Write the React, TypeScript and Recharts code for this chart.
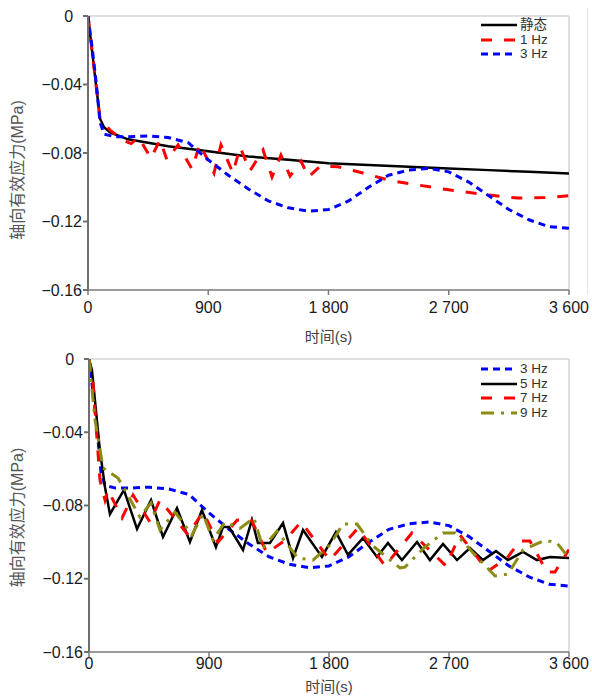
import React from 'react';
import { LineChart, Line, XAxis, YAxis, ReferenceLine, Legend } from 'recharts';

const FONT = '"Liberation Sans", Arial, "Noto Sans CJK SC", sans-serif';

// ---- axis ticks ----
const xTicks = [0, 900, 1800, 2700, 3600];
const xTickLabels = ['0', '900', '1 800', '2 700', '3 600'];
const yTicks = [0, -0.04, -0.08, -0.12, -0.16];
const yTickLabels = ['0\u2007', '−0.04', '−0.08', '−0.12', '−0.16'];

// ---- top chart: 静态 ----
const staticTime = [0, 30, 60, 90, 120, 165, 300, 450, 600, 900, 1200, 1500, 1800, 2100, 2400, 2700, 3000, 3300, 3600];
const staticValue = [0, -0.02, -0.04, -0.06, -0.065, -0.068, -0.072, -0.074, -0.076, -0.079, -0.082, -0.084, -0.086, -0.087, -0.088, -0.089, -0.09, -0.091, -0.092];

// ---- top chart: 1 Hz ----
const hz1Time = [0, 30, 60, 90, 165, 260, 322, 380, 471, 539, 591, 674, 778, 838, 943, 995, 1085, 1138, 1212, 1310, 1377, 1444, 1512, 1594, 1650, 1740, 1871, 2058, 2275, 2470, 2657, 2881, 3050, 3218, 3420, 3600];
const hz1Value = [0, -0.02, -0.04, -0.06, -0.0666, -0.0725, -0.0745, -0.071, -0.083, -0.0724, -0.084, -0.0753, -0.0893, -0.0747, -0.0917, -0.0753, -0.0917, -0.0765, -0.0905, -0.0782, -0.094, -0.0812, -0.0934, -0.0847, -0.094, -0.0876, -0.088, -0.0917, -0.0963, -0.0987, -0.101, -0.1034, -0.105, -0.1063, -0.106, -0.105];

// ---- both charts: 3 Hz ----
const hz3Time = [0, 30, 60, 90, 120, 200, 300, 450, 600, 750, 900, 1050, 1200, 1350, 1500, 1650, 1800, 1950, 2100, 2250, 2400, 2550, 2700, 2850, 3000, 3150, 3300, 3450, 3600];
const hz3Value = [0, -0.018, -0.038, -0.062, -0.069, -0.0705, -0.0705, -0.07, -0.071, -0.074, -0.084, -0.093, -0.101, -0.108, -0.112, -0.114, -0.113, -0.108, -0.1, -0.093, -0.09, -0.089, -0.091, -0.097, -0.105, -0.113, -0.119, -0.123, -0.124];

// ---- bottom chart: 5 Hz ----
const hz5Time = [0, 22, 82, 120, 157, 262, 360, 465, 555, 660, 757, 847, 952, 1005, 1050, 1155, 1222, 1267, 1357, 1455, 1530, 1605, 1747, 1852, 1942, 2055, 2160, 2242, 2347, 2460, 2557, 2655, 2760, 2857, 2955, 3052, 3142, 3255, 3360, 3457, 3600];
const hz5Value = [0, -0.006, -0.05, -0.07, -0.0847, -0.0715, -0.0928, -0.077, -0.0972, -0.0814, -0.0999, -0.0825, -0.1027, -0.0918, -0.0918, -0.1043, -0.0879, -0.1005, -0.1005, -0.0896, -0.1087, -0.0934, -0.1081, -0.0945, -0.107, -0.0978, -0.1081, -0.1005, -0.1098, -0.0999, -0.1098, -0.101, -0.1098, -0.1032, -0.1098, -0.1049, -0.1098, -0.1054, -0.1098, -0.1081, -0.1087];

// ---- bottom chart: 7 Hz ----
const hz7Time = [0, 30, 82, 120, 142, 248, 330, 457, 532, 742, 855, 967, 1110, 1215, 1335, 1470, 1590, 1807, 2017, 2220, 2422, 2677, 2782, 2992, 3135, 3232, 3307, 3435, 3495, 3600];
const hz7Value = [0, -0.013, -0.066, -0.077, -0.0715, -0.0868, -0.0743, -0.089, -0.077, -0.096, -0.0836, -0.1, -0.088, -0.0875, -0.106, -0.099, -0.089, -0.1098, -0.0923, -0.113, -0.095, -0.113, -0.0961, -0.1158, -0.1087, -0.0994, -0.0994, -0.1163, -0.1163, -0.104];

// ---- bottom chart: 9 Hz ----
const hz9Time = [0, 45, 105, 217, 262, 382, 465, 532, 645, 772, 855, 930, 1020, 1132, 1237, 1305, 1410, 1567, 1680, 1807, 1905, 2010, 2130, 2332, 2370, 2512, 2655, 2745, 2895, 3045, 3142, 3255, 3420, 3510, 3600];
const hz9Value = [0, -0.033, -0.0595, -0.065, -0.0705, -0.0863, -0.0786, -0.0934, -0.0836, -0.0961, -0.0847, -0.0989, -0.089, -0.0925, -0.0868, -0.1032, -0.094, -0.1087, -0.1098, -0.1016, -0.0901, -0.0901, -0.1021, -0.1141, -0.1136, -0.1032, -0.095, -0.095, -0.107, -0.1185, -0.1174, -0.1043, -0.0989, -0.1005, -0.1087];

const toData = (t: number[], v: number[]) => t.map((x, i) => ({ t: x, v: v[i] }));

const RED = '#ff0000';
const BLUE = '#0000ff';
const OLIVE = '#8c8c14';
const BLACK = '#000000';

const DASH_RED = '11 12';
const DASH_BLUE = '7 5';
const DASH_OLIVE = '13 7 3 7';

type Item = { label: string; color: string; dash?: string; width: number };

const topItems: Item[] = [
  { label: '静态', color: BLACK, width: 2.5 },
  { label: '1 Hz', color: RED, dash: DASH_RED, width: 3 },
  { label: '3 Hz', color: BLUE, dash: DASH_BLUE, width: 3 },
];
const bottomItems: Item[] = [
  { label: '3 Hz', color: BLUE, dash: DASH_BLUE, width: 3 },
  { label: '5 Hz', color: BLACK, width: 2.5 },
  { label: '7 Hz', color: RED, dash: DASH_RED, width: 3 },
  { label: '9 Hz', color: OLIVE, dash: DASH_OLIVE, width: 3 },
];

const LegendBox = ({ items }: { items: Item[] }) => (
  <div style={{ fontFamily: FONT, fontSize: 13.5, color: '#333' }}>
    {items.map((it) => (
      <div key={it.label} style={{ display: 'flex', alignItems: 'center', height: 14.6 }}>
        <svg width={36} height={6} style={{ display: 'block' }}>
          <line x1={0} y1={3} x2={36} y2={3} stroke={it.color} strokeWidth={it.width} strokeDasharray={it.dash} />
        </svg>
        <span style={{ marginLeft: 3, lineHeight: '14px' }}>{it.label}</span>
      </div>
    ))}
  </div>
);

const YTitle = (props: any) => {
  const vb = props.viewBox || {};
  const cx = 17;
  const cy = vb.y + vb.height / 2 + (props.shift || 0);
  return (
    <text x={cx} y={cy} transform={`rotate(-90 ${cx} ${cy})`} textAnchor="middle" dominantBaseline="central"
      fontFamily={FONT} fontSize={16} fill="#555">轴向有效应力(MPa)</text>
  );
};

const XTitle = (props: any) => {
  const vb = props.viewBox || {};
  const cx = vb.x + vb.width / 2;
  const cy = vb.y + (props.down || 40);
  return (
    <text x={cx} y={cy} textAnchor="middle" dominantBaseline="central" fontFamily={FONT} fontSize={15} fill="#444">时间(s)</text>
  );
};

const xFmt = (v: number) => xTickLabels[xTicks.indexOf(v)] ?? String(v);
const yFmt = (v: number) => {
  const i = yTicks.findIndex((t) => Math.abs(t - v) < 1e-9);
  return i >= 0 ? yTickLabels[i] : String(v);
};

const tickStyle = { fill: '#1a1a1a', fontSize: 16, fontFamily: FONT };

const Panel = ({ lines, items, height, margin, xHeight, xTickMargin, xTitleDown, yTitleShift, yWidth }: any) => (
  <LineChart width={592} height={height} margin={margin}>
    <XAxis type="number" dataKey="t" domain={[0, 3600]} ticks={xTicks} tickFormatter={xFmt}
      stroke="#7a7a7a" strokeWidth={1.5} tickSize={5} tickMargin={xTickMargin} tick={tickStyle} height={xHeight}
      allowDataOverflow label={<XTitle down={xTitleDown} />} />
    <YAxis type="number" domain={[-0.16, 0]} ticks={yTicks} tickFormatter={yFmt} width={yWidth}
      stroke="#6f6f6f" strokeWidth={2} tickSize={5} tickMargin={1} tick={tickStyle} interval={0}
      allowDataOverflow label={<YTitle shift={yTitleShift} />} />
    <ReferenceLine y={0} stroke="#d4d4d4" strokeWidth={1.5} />
    <ReferenceLine x={3600} stroke="#d4d4d4" strokeWidth={1.5} />
    {lines.map((l: any) => (
      <Line key={l.key} data={l.data} dataKey="v" type="linear" dot={false} activeDot={false}
        stroke={l.color} strokeWidth={l.width} strokeDasharray={l.dash} isAnimationActive={false} />
    ))}
    <Legend layout="horizontal" verticalAlign="middle" align="center"
      wrapperStyle={{ position: 'absolute', left: 481, top: items.length === 3 ? 18 : 17, width: 100 }}
      content={() => <LegendBox items={items} />} />
  </LineChart>
);

export default function App() {
  const topLines = [
    { key: 'static', data: toData(staticTime, staticValue), color: BLACK, width: 2.5 },
    { key: 'hz1', data: toData(hz1Time, hz1Value), color: RED, width: 3, dash: DASH_RED },
    { key: 'hz3', data: toData(hz3Time, hz3Value), color: BLUE, width: 3, dash: DASH_BLUE },
  ];
  const bottomLines = [
    { key: 'hz3b', data: toData(hz3Time, hz3Value), color: BLUE, width: 3, dash: DASH_BLUE },
    { key: 'hz5', data: toData(hz5Time, hz5Value), color: BLACK, width: 2.5 },
    { key: 'hz7', data: toData(hz7Time, hz7Value), color: RED, width: 3, dash: DASH_RED },
    { key: 'hz9', data: toData(hz9Time, hz9Value), color: OLIVE, width: 3, dash: DASH_OLIVE },
  ];
  return (
    <div style={{ position: 'absolute', left: 0, top: 0, width: 592, height: 697, background: '#fff', overflow: 'hidden' }}>
      <div style={{ position: 'absolute', left: 587, top: 8, width: 1, height: 287, background: '#e6e6e6' }} />
      <div style={{ position: 'absolute', left: 0, top: 0 }}>
        <Panel lines={topLines} items={topItems} height={345} margin={{ top: 16, right: 23, left: 0, bottom: 0 }}
          xHeight={55} xTickMargin={7} xTitleDown={46} yTitleShift={17} yWidth={88} />
      </div>
      <div style={{ position: 'absolute', left: 0, top: 345 }}>
        <Panel lines={bottomLines} items={bottomItems} height={352} margin={{ top: 14, right: 23, left: 0, bottom: 0 }}
          xHeight={45} xTickMargin={1} xTitleDown={34} yTitleShift={12} yWidth={89} />
      </div>
    </div>
  );
}
